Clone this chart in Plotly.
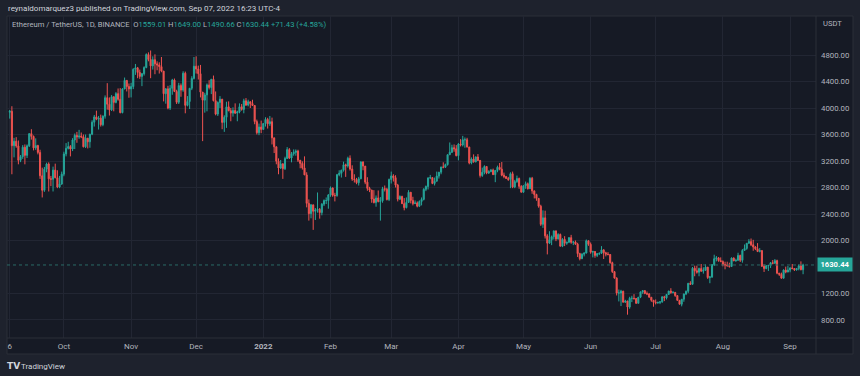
import pandas as pd
import plotly.graph_objects as go

# ---------------- data (ETHUSDT daily, Binance) ----------------
start_date = "2021-09-06"
end_date = "2022-09-07"
first_open = 3936.0

closes = [
    # Sep 2021 (6..30)
    3951, 3431, 3498, 3427, 3211, 3266, 3408, 3285, 3429, 3613, 3571, 3398, 3433, 3330, 2977,
    2758, 3077, 3155, 2931, 2925, 3063, 2947, 2807, 2853, 3001,
    # Oct
    3307, 3391, 3418, 3381, 3517, 3587, 3563, 3576, 3565, 3415, 3545, 3490, 3605, 3786, 3866, 3831,
    3847, 3748, 3877, 4155, 4057, 3972, 4170, 4085, 4217, 4131, 3930, 4287, 4417, 4325, 4288,
    # Nov
    4324, 4585, 4607, 4537, 4477, 4518, 4611, 4807, 4733, 4636, 4730, 4667, 4649, 4625, 4557,
    4216, 4289, 3999, 4298, 4422, 4250, 4087, 4339, 4270, 4525, 4040, 4098, 4298, 4447, 4631,
    # Dec
    4588, 4518, 4240, 4119, 4198, 4349, 4309, 4433, 4111, 3908, 4084, 4134, 3783, 3860, 4018, 3960,
    3923, 3962, 3923, 3941, 4019, 3979, 4109, 4045, 4094, 4067, 4038, 3795, 3627, 3713, 3677,
    # Jan 2022
    3766, 3828, 3762, 3794, 3550, 3414, 3197, 3094, 3157, 3083, 3239, 3372, 3246, 3310, 3330, 3350,
    3212, 3164, 3096, 2990, 2561, 2405, 2538, 2441, 2460, 2470, 2421, 2549, 2602, 2603, 2688,
    # Feb
    2793, 2682, 2678, 2993, 3014, 3060, 3143, 3126, 3241, 3078, 2927, 2919, 2872, 2932, 3186, 3123,
    2881, 2787, 2761, 2626, 2572, 2642, 2589, 2599, 2782, 2775, 2618, 2921,
    # Mar
    2975, 2949, 2836, 2624, 2666, 2556, 2496, 2575, 2728, 2605, 2557, 2567, 2518, 2589, 2620, 2772,
    2815, 2943, 2949, 2861, 2895, 2972, 3031, 3108, 3106, 3145, 3294, 3332, 3401, 3384, 3281,
    # Apr
    3455, 3443, 3521, 3521, 3410, 3171, 3230, 3187, 3261, 3209, 2981, 3030, 3117, 3018, 3040, 3063,
    2994, 3057, 3105, 3077, 2986, 2965, 2937, 2922, 3008, 2808, 2889, 2936, 2817, 2729,
    # May
    2826, 2857, 2782, 2940, 2749, 2695, 2636, 2518, 2244, 2342, 2070, 1960, 2011, 2057, 2145, 2023,
    2090, 1914, 2017, 1958, 1975, 2043, 1972, 1978, 1944, 1802, 1725, 1793, 1811, 1996, 1942,
    # Jun
    1823, 1834, 1775, 1802, 1806, 1859, 1814, 1794, 1789, 1665, 1530, 1432, 1207, 1208, 1235, 1068,
    1087, 995, 1127, 1127, 1124, 1052, 1144, 1224, 1243, 1199, 1193, 1143, 1098, 1067,
    # Jul
    1059, 1066, 1074, 1150, 1134, 1186, 1237, 1214, 1217, 1168, 1097, 1038, 1113, 1192, 1233, 1353,
    1339, 1581, 1543, 1521, 1576, 1536, 1551, 1598, 1440, 1450, 1636, 1725, 1738, 1696, 1681,
    # Aug
    1634, 1632, 1619, 1608, 1735, 1692, 1700, 1775, 1701, 1850, 1880, 1958, 1983, 1935, 1902, 1875,
    1834, 1848, 1612, 1577, 1620, 1625, 1663, 1657, 1696, 1507, 1490, 1431, 1553, 1523, 1554,
    # Sep 2022 (1..7)
    1586, 1577, 1556, 1577, 1618, 1559.01, 1630.44,
]

highs = [
    # Sep 2021
    3970, 4027, 3550, 3560, 3510, 3290, 3440, 3450, 3450, 3620, 3680, 3585, 3542, 3445, 3370,
    3100, 3110, 3175, 3180, 2975, 3115, 3160, 3060, 2975, 3040,
    # Oct
    3340, 3470, 3490, 3440, 3545, 3615, 3640, 3670, 3630, 3600, 3600, 3545, 3610, 3815, 3895, 3960,
    3880, 3900, 3890, 4190, 4375, 4160, 4195, 4175, 4240, 4295, 4300, 4300, 4460, 4420, 4370,
    # Nov
    4380, 4600, 4665, 4620, 4580, 4530, 4630, 4825, 4840, 4868, 4780, 4810, 4705, 4690, 4770,
    4560, 4300, 4335, 4345, 4440, 4445, 4275, 4380, 4370, 4555, 4550, 4180, 4300, 4480, 4770,
    # Dec
    4780, 4640, 4650, 4240, 4230, 4370, 4420, 4440, 4490, 4250, 4100, 4180, 4135, 3890, 4095, 4100,
    4000, 4010, 4070, 3960, 4070, 4060, 4140, 4150, 4125, 4100, 4125, 4045, 3825, 3765, 3810,
    # Jan 2022
    3770, 3860, 3852, 3880, 3855, 3550, 3420, 3240, 3215, 3165, 3265, 3410, 3395, 3335, 3375, 3375,
    3370, 3215, 3195, 3270, 3030, 2620, 2550, 2460, 2490, 2725, 2490, 2565, 2620, 2650, 2700,
    # Feb
    2815, 2800, 2720, 3005, 3060, 3070, 3190, 3160, 3265, 3285, 3135, 3000, 2945, 2960, 3195, 3195,
    3125, 2955, 2810, 2765, 2760, 2680, 2755, 2655, 2810, 2830, 2795, 2935,
    # Mar
    3040, 3000, 2985, 2855, 2680, 2675, 2640, 2650, 2760, 2730, 2660, 2605, 2590, 2605, 2650, 2790,
    2830, 2955, 2990, 2955, 2950, 3040, 3035, 3115, 3180, 3160, 3300, 3480, 3445, 3450, 3440,
    # Apr
    3470, 3530, 3580, 3555, 3550, 3415, 3255, 3300, 3270, 3305, 3215, 3100, 3135, 3125, 3060, 3080,
    3085, 3065, 3130, 3170, 3185, 3025, 2975, 2960, 3030, 3040, 2915, 2980, 2950, 2835,
    # May
    2835, 2890, 2875, 2955, 2960, 2755, 2705, 2640, 2540, 2455, 2450, 2095, 2140, 2075, 2150, 2150,
    2110, 2105, 2035, 2065, 1980, 2050, 2085, 1990, 2000, 1965, 1815, 1808, 1820, 2015, 2000,
    # Jun
    1970, 1845, 1840, 1810, 1820, 1915, 1865, 1830, 1825, 1795, 1680, 1540, 1445, 1260, 1255, 1240,
    1105, 1090, 1150, 1165, 1190, 1130, 1145, 1230, 1250, 1250, 1230, 1205, 1145, 1100,
    # Jul
    1110, 1075, 1080, 1155, 1165, 1190, 1240, 1280, 1235, 1220, 1170, 1100, 1115, 1200, 1245, 1360,
    1385, 1600, 1620, 1620, 1590, 1645, 1595, 1640, 1600, 1465, 1645, 1785, 1765, 1750, 1745,
    # Aug
    1700, 1680, 1680, 1665, 1745, 1745, 1725, 1815, 1785, 1870, 1940, 1960, 2020, 2030, 2010, 1915,
    1960, 1885, 1850, 1640, 1625, 1630, 1675, 1705, 1720, 1710, 1510, 1515, 1565, 1605, 1615,
    # Sep 2022
    1595, 1645, 1580, 1580, 1640, 1685, 1649.00,
]

lows = [
    # Sep 2021
    3840, 3000, 3255, 3400, 3150, 3183, 3232, 3150, 3245, 3411, 3523, 3360, 3368, 3300, 2930,
    2650, 2734, 3030, 2740, 2820, 2740, 2940, 2790, 2790, 2840,
    # Oct
    2970, 3270, 3375, 3270, 3350, 3380, 3475, 3535, 3545, 3405, 3396, 3390, 3400, 3590, 3720, 3816,
    3675, 3720, 3725, 3840, 3975, 3886, 3955, 3950, 4070, 4110, 3920, 3920, 4285, 4250, 4155,
    # Nov
    4160, 4285, 4500, 4450, 4440, 4330, 4490, 4600, 4705, 4450, 4580, 4510, 4570, 4520, 4540,
    4100, 4065, 3980, 3970, 4200, 4240, 4060, 4060, 4170, 4245, 3920, 4025, 3985, 4270, 4430,
    # Dec
    4520, 4430, 4160, 3500, 3930, 3950, 4280, 4210, 4100, 3890, 3880, 4000, 3680, 3640, 3700, 3950,
    3800, 3870, 3910, 3800, 3920, 3960, 3920, 4030, 4025, 4000, 4030, 3755, 3600, 3590, 3620,
    # Jan 2022
    3675, 3720, 3690, 3730, 3450, 3320, 3150, 3000, 3080, 2930, 3065, 3230, 3230, 3180, 3280, 3280,
    3185, 3090, 3070, 2990, 2500, 2300, 2335, 2160, 2310, 2420, 2330, 2380, 2520, 2550, 2480,
    # Feb
    2660, 2660, 2590, 2660, 2970, 2950, 3040, 2960, 3100, 3055, 2900, 2875, 2850, 2830, 2925, 3060,
    2850, 2750, 2730, 2570, 2560, 2510, 2575, 2300, 2570, 2740, 2605, 2595,
    # Mar
    2860, 2890, 2800, 2590, 2610, 2550, 2455, 2485, 2570, 2560, 2530, 2555, 2500, 2505, 2530, 2605,
    2745, 2770, 2925, 2850, 2830, 2890, 2935, 3000, 3090, 3095, 3130, 3290, 3320, 3340, 3270,
    # Apr
    3210, 3420, 3420, 3400, 3405, 3150, 3150, 3175, 3180, 3200, 2950, 2960, 3000, 3000, 3005, 3030,
    2990, 2880, 3030, 3060, 2970, 2940, 2930, 2900, 2790, 2790, 2790, 2870, 2780, 2725,
    # May
    2720, 2780, 2770, 2780, 2705, 2635, 2600, 2495, 2220, 2190, 2030, 1790, 1950, 1930, 2015, 1990,
    2015, 1910, 1900, 1915, 1935, 1960, 1950, 1930, 1935, 1750, 1700, 1720, 1760, 1805, 1920,
    # Jun
    1800, 1745, 1740, 1750, 1780, 1800, 1720, 1760, 1775, 1650, 1510, 1425, 1170, 1080, 1010, 1065,
    1060, 880, 970, 1070, 1105, 1045, 1050, 1130, 1195, 1190, 1175, 1140, 1075, 1000,
    # Jul
    1035, 1045, 1040, 1060, 1085, 1110, 1180, 1195, 1200, 1150, 1090, 1035, 1006, 1075, 1175, 1205,
    1335, 1335, 1460, 1500, 1460, 1530, 1500, 1540, 1420, 1355, 1435, 1615, 1685, 1680, 1675,
    # Aug
    1610, 1565, 1605, 1590, 1605, 1690, 1680, 1700, 1675, 1665, 1850, 1860, 1950, 1915, 1845, 1855,
    1825, 1820, 1600, 1525, 1565, 1540, 1585, 1640, 1645, 1490, 1465, 1425, 1425, 1505, 1535,
    # Sep 2022
    1520, 1565, 1540, 1545, 1550, 1550, 1490.66,
]

price_ticks = [800, 1200, 2000, 2400, 2800, 3200, 3600, 4000, 4400, 4800]
time_tick_dates = ["2021-09-06", "2021-10-01", "2021-11-01", "2021-12-01", "2022-01-01",
                   "2022-02-01", "2022-03-01", "2022-04-01", "2022-05-01", "2022-06-01",
                   "2022-07-01", "2022-08-01", "2022-09-01"]
time_tick_labels = ["6", "Oct", "Nov", "Dec", "<b>2022</b>", "Feb", "Mar", "Apr", "May",
                    "Jun", "Jul", "Aug", "Sep"]

symbol_title = "Ethereum / TetherUS, 1D, BINANCE"
last_open, last_high, last_low, last_close = 1559.01, 1649.00, 1490.66, 1630.44
change_abs, change_pct = 71.43, 4.58
publisher_line = "reynaldomarquez3 published on TradingView.com, Sep 07, 2022 16:23 UTC-4"

# ---------------- build ----------------
dates = pd.date_range(start_date, end_date, freq="D")
assert len(dates) == len(closes) == len(highs) == len(lows)
opens = [first_open] + closes[:-1]

W, H = 860, 376
UP, DOWN = "#26a69a", "#ef5350"
BG_OUT = "#1e222d"
BG_CHART = "#161a25"
GRID = "#222633"
BORDER = "#2a2e39"
TXT = "#b2b5be"

# pixel layout
px_left, px_right = 7, 816
px_top, px_bottom = 16, 338
frame_right, frame_bottom = 853, 354


def fx(px):
    return px / W


def fy(py):
    return 1 - py / H


fig = go.Figure()
fig.add_trace(go.Candlestick(
    x=dates, open=opens, high=highs, low=lows, close=closes,
    increasing=dict(line=dict(color=UP, width=1), fillcolor=UP),
    decreasing=dict(line=dict(color=DOWN, width=1), fillcolor=DOWN),
    whiskerwidth=0, showlegend=False, hoverinfo="skip",
))

shapes = [
    dict(type="rect", xref="paper", yref="paper", x0=fx(px_left), x1=fx(frame_right),
         y0=fy(frame_bottom), y1=fy(px_top), fillcolor=BG_CHART, line=dict(color=BORDER, width=1),
         layer="below"),
    dict(type="line", xref="paper", yref="paper", x0=fx(px_left), x1=fx(frame_right),
         y0=fy(px_bottom), y1=fy(px_bottom), line=dict(color=BORDER, width=1)),
    dict(type="line", xref="paper", yref="paper", x0=fx(px_right), x1=fx(px_right),
         y0=fy(frame_bottom), y1=fy(px_top), line=dict(color=BORDER, width=1)),
    dict(type="line", xref="paper", yref="y", x0=fx(px_left), x1=fx(px_right),
         y0=last_close, y1=last_close, line=dict(color="#2a6b67", width=1, dash="dot")),
]

annotations = [
    dict(xref="paper", yref="paper", x=fx(6), y=fy(9), xanchor="left", yanchor="middle",
         text=publisher_line, showarrow=False, font=dict(size=8, color="#d1d4dc")),
    dict(xref="paper", yref="paper", x=fx(10), y=fy(25), xanchor="left", yanchor="middle",
         showarrow=False, font=dict(size=7.6, color=TXT),
         text=(f"{symbol_title}&nbsp; O<span style='color:{UP}'>{last_open:.2f}</span>"
               f" H<span style='color:{UP}'>{last_high:.2f}</span>"
               f" L<span style='color:{UP}'>{last_low:.2f}</span>"
               f" C<span style='color:{UP}'>{last_close:.2f}</span>"
               f" <span style='color:{UP}'>+{change_abs:.2f} (+{change_pct:.2f}%)</span>")),
    dict(xref="paper", yref="paper", x=fx(821), y=fy(24), xanchor="left", yanchor="middle",
         text="USDT", showarrow=False, font=dict(size=7.6, color=TXT)),
    dict(xref="paper", yref="y", x=fx(816.5), y=last_close, xanchor="left", yanchor="middle",
         text=f"<b>{last_close:.2f}</b>", showarrow=False, bgcolor=UP, borderpad=2,
         font=dict(size=7.6, color="#ffffff"), width=30),
    dict(xref="paper", yref="paper", x=fx(5), y=fy(366), xanchor="left", yanchor="middle",
         text="<b>TV</b>", showarrow=False,
         font=dict(size=9, color="#d1d4dc", family="DejaVu Sans")),
    dict(xref="paper", yref="paper", x=fx(19), y=fy(366), xanchor="left", yanchor="middle",
         text="TradingView", showarrow=False, font=dict(size=8, color="#d1d4dc")),
]

fig.update_layout(
    width=W, height=H, margin=dict(l=0, r=0, t=0, b=0),
    paper_bgcolor=BG_OUT, plot_bgcolor=BG_CHART,
    font=dict(family="Roboto, Noto Sans, sans-serif", size=8, color=TXT),
    shapes=shapes, annotations=annotations, hovermode=False,
    xaxis=dict(
        domain=[fx(px_left), fx(px_right)],
        type="date",
        range=["2021-09-04 18:00", "2022-09-12 23:00"],
        rangeslider=dict(visible=False),
        tickvals=pd.to_datetime(time_tick_dates), ticktext=time_tick_labels,
        showgrid=True, gridcolor=GRID, gridwidth=1,
        zeroline=False, showline=False, ticks="", ticklabelstandoff=2,
        tickfont=dict(size=8, color=TXT), fixedrange=True,
    ),
    yaxis=dict(
        domain=[fy(px_bottom), fy(px_top)],
        side="right", range=[528, 5389],
        tickvals=price_ticks, ticktext=[f"{v:.2f}" for v in price_ticks],
        showgrid=True, gridcolor=GRID, gridwidth=1,
        zeroline=False, showline=False, ticks="", ticklabelstandoff=4,
        tickfont=dict(size=7.8, color=TXT), fixedrange=True,
    ),
)

fig.write_html(
    "out.html",
    config={"displayModeBar": False, "staticPlot": True},
    post_script="document.body.style.margin='0';document.body.style.padding='0';"
                "document.body.style.overflow='hidden';",
)
